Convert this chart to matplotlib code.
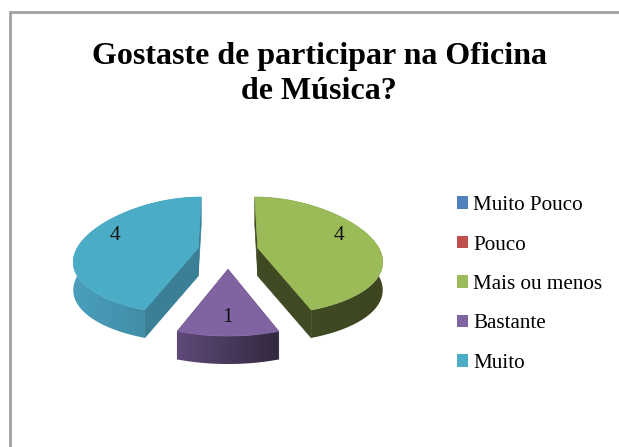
import numpy as np
import matplotlib
matplotlib.use("Agg")
import matplotlib.pyplot as plt
from matplotlib.colors import LinearSegmentedColormap
from matplotlib.patches import Patch, Polygon

categories = ["Muito Pouco", "Pouco", "Mais ou menos", "Bastante", "Muito"]
values = [0, 0, 4, 1, 4]
explode = [0, 0, 0.25, 0.33, 0.25]
title = "Gostaste de participar na Oficina\nde Música?"

top_colors = ["#4f81bd", "#c0504d", "#9bbb59", "#8064a2", "#4bacc6"]
side_left = ["#4f81bd", "#c0504d", "#434e24", "#5f4a78", "#4a9fbb"]
side_right = ["#4f81bd", "#c0504d", "#3c4520", "#32283f", "#3a8098"]
inner_colors = ["#4f81bd", "#c0504d", "#404a22", "#4c3c60", "#3a7f96"]

plt.rcParams["font.family"] = "Liberation Serif"

# pixel sizes of the squashed pie
CX, CY = 228, 250.5
RX, RY = 121, 57.7
DEPTH = 28


def project(u, v, ox, oy):
    # flat pie coords to screen, front gets bigger
    x = CX + ox * RX * (1 - 0.1 * v) + RX * u * (1 - 0.24 * v)
    y = CY - oy * RY - RY * v / (1 + 0.132 * v)
    return x, y


fig = plt.figure(figsize=(6.19, 4.47), dpi=100)
ax = fig.add_axes([0, 0, 1, 1])

# let pie work out the angles and the explode offsets
wedges, _ = ax.pie(values, explode=explode, startangle=90, counterclock=False)
slices = [(w.theta1, w.theta2, w.center) for w in wedges]
for w in wedges:
    w.remove()

ax.axis("off")

# frame of the chart
ax.plot([9.5, 9.5, 619], [447, 12, 12], color="#a0a0a0", lw=2, solid_joinstyle="miter")

zo = 2
for i in [4, 2, 3]:
    t1, t2, (ox, oy) = slices[i]
    t = np.radians(np.linspace(t1, t2, 90))
    px, py = project(np.cos(t), np.sin(t), ox, oy)
    ax_, ay_ = project(0.0, 0.0, ox, oy)

    # cut faces
    for j in [0, -1]:
        quad = [(ax_, ay_), (px[j], py[j]), (px[j], py[j] + DEPTH), (ax_, ay_ + DEPTH)]
        ax.add_patch(Polygon(quad, fc=inner_colors[i], ec=inner_colors[i], lw=0.5, zorder=zo))

    # outer rim, shaded left to right
    rim = Polygon(list(zip(px, py)) + list(zip(px[::-1], py[::-1] + DEPTH)),
                  fc="none", ec="none", zorder=zo + 1)
    ax.add_patch(rim)
    cmap = LinearSegmentedColormap.from_list("rim", [side_left[i], side_right[i]])
    img = ax.imshow(np.linspace(0, 1, 256).reshape(1, -1), cmap=cmap, aspect="auto",
                    extent=(px.min(), px.max(), py.max() + DEPTH, py.min()), zorder=zo + 1)
    img.set_clip_path(rim)

    top = [(ax_, ay_)] + list(zip(px, py))
    ax.add_patch(Polygon(top, fc=top_colors[i], ec=top_colors[i], lw=0.5, zorder=zo + 2))
    zo += 3

ax.set_aspect("auto")
ax.set_xlim(0, 619)
ax.set_ylim(447, 0)

# value labels
ax.text(339, 235, str(values[2]), fontsize=15.5, ha="center", va="center", color="#111111", zorder=20)
ax.text(227, 317.5, str(values[3]), fontsize=15.5, ha="center", va="center", color="#111111", zorder=20)
ax.text(115, 235, str(values[4]), fontsize=15.5, ha="center", va="center", color="#111111", zorder=20)

ax.text(319, 74, title, fontsize=23, fontweight="bold", ha="center", va="center",
        linespacing=1.25, color="black")

handles = [Patch(fc=c, ec="none", label=n) for c, n in zip(top_colors, categories)]
ax.legend(handles=handles, loc="center left", bbox_to_anchor=(457 / 619, 1 - 284.5 / 447),
          frameon=False, fontsize=15.2, handlelength=0.52, handleheight=0.52,
          handletextpad=0.24, labelspacing=0.97, borderpad=0, borderaxespad=0)

fig.savefig("out.png", dpi=100)
